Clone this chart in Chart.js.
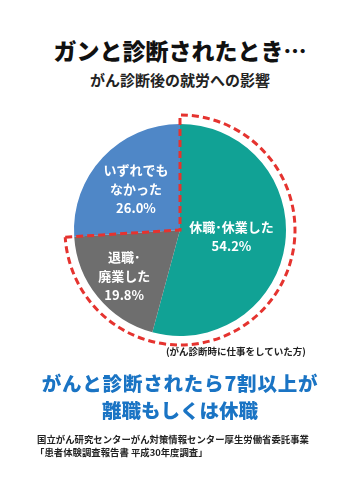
<!DOCTYPE html>
<html><head><meta charset="utf-8">
<script src="https://cdn.jsdelivr.net/npm/chart.js@4.4.1/dist/chart.umd.min.js"></script>
<style>
html,body{margin:0;padding:0;background:#fff;}
body{width:360px;height:496px;position:relative;overflow:hidden;font-family:"Noto Sans CJK JP","Noto Sans",sans-serif;}
.t{position:absolute;left:0;width:360px;text-align:center;white-space:nowrap;line-height:1;}
#wrap{position:absolute;left:62px;top:112px;width:236px;height:236px;}
</style></head><body>
<div class="t" style="top:39px;font-size:23px;font-weight:900;color:#111;">ガンと診断されたとき…</div>
<div class="t" style="top:72px;font-size:15px;font-weight:700;color:#222;">がん診断後の就労への影響</div>
<div id="wrap"><canvas id="c"></canvas></div>
<div class="t" style="top:347px;left:166px;width:auto;font-size:9.5px;font-weight:700;color:#222;">(がん診断時に仕事をしていた方)</div>
<div class="t" style="top:373px;font-size:19.5px;font-weight:900;color:#1a74c4;letter-spacing:0.8px;">がんと診断されたら7割以上が</div>
<div class="t" style="top:400px;font-size:19.5px;font-weight:900;color:#1a74c4;">離職もしくは休職</div>
<div class="t" style="top:435px;left:37px;width:auto;text-align:left;font-size:9.4px;font-weight:700;color:#222;">国立がん研究センターがん対策情報センター厚生労働省委託事業</div>
<div class="t" style="top:448px;left:35px;width:auto;text-align:left;font-size:9.4px;font-weight:700;color:#222;">「患者体験調査報告書 平成30年度調査」</div>
<script>
const categories = ["休職･休業した", "退職･廃業した", "いずれでもなかった"];
const labelLines = [["休職･休業した"], ["退職･", "廃業した"], ["いずれでも", "なかった"]];
const values = [54.2, 19.8, 26.0];
const colors = ["#11a295", "#6e6e6e", "#4f87c7"];

const sliceLabels = {
  id: 'sliceLabels',
  afterDatasetsDraw(chart, args, opts) {
    const ctx = chart.ctx;
    const meta = chart.getDatasetMeta(0);
    ctx.save();
    ctx.fillStyle = '#fff';
    ctx.font = '700 13px "Noto Sans CJK JP", sans-serif';
    ctx.textAlign = 'center';
    ctx.textBaseline = 'middle';
    meta.data.forEach((arc, i) => {
      const mid = (arc.startAngle + arc.endAngle) / 2;
      const rr = arc.outerRadius * opts.radii[i];
      const cx = arc.x + Math.cos(mid) * rr;
      const cy = arc.y + Math.sin(mid) * rr;
      const lines = labelLines[i].concat([values[i].toFixed(1) + '%']);
      const lh = 19;
      const y0 = cy - (lines.length - 1) * lh / 2;
      lines.forEach((l, k) => ctx.fillText(l, cx, y0 + k * lh));
    });
    ctx.restore();
  }
};

const dashOutline = {
  id: 'dashOutline',
  afterDatasetsDraw(chart) {
    const ctx = chart.ctx;
    const meta = chart.getDatasetMeta(0);
    const a0 = meta.data[0], a1 = meta.data[1];
    const x = a0.x, y = a0.y, R = a0.outerRadius + 9;
    const s = a0.startAngle, e = a1.endAngle;
    ctx.save();
    ctx.strokeStyle = '#e5332f';
    ctx.lineWidth = 3;
    ctx.setLineDash([7, 4]);
    ctx.beginPath();
    ctx.moveTo(x + Math.cos(e) * R, y + Math.sin(e) * R);
    ctx.lineTo(x, y);
    ctx.lineTo(x + Math.cos(s) * R, y + Math.sin(s) * R);
    ctx.arc(x, y, R, s, e, false);
    ctx.stroke();
    ctx.restore();
  }
};

new Chart(document.getElementById('c'), {
  type: 'pie',
  data: {
    labels: categories,
    datasets: [{ data: values, backgroundColor: colors, borderWidth: 0 }]
  },
  options: {
    responsive: true,
    maintainAspectRatio: false,
    animation: false,
    layout: { padding: 12 },
    plugins: {
      legend: { display: false },
      tooltip: { enabled: false },
      sliceLabels: { radii: [0.49, 0.68, 0.57] }
    }
  },
  plugins: [sliceLabels, dashOutline]
});
</script>
</body></html>
